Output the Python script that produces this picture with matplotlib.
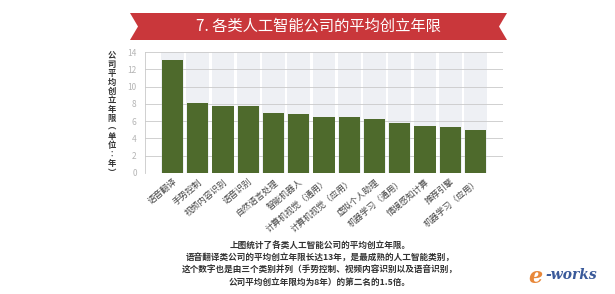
import matplotlib
matplotlib.use("Agg")
import matplotlib.pyplot as plt
from matplotlib.patches import Polygon

plt.rcParams["font.family"] = ["Noto Sans CJK SC", "DejaVu Sans"]

TITLE = "7. 各类人工智能公司的平均创立年限"
YLABEL = "公司平均创立年限︵单位︰年︶"
categories = ["语音翻译", "手势控制", "视频内容识别", "语音识别", "自然语言处理",
              "智能机器人", "计算机视觉（通用）", "计算机视觉（应用）", "虚拟个人助理",
              "机器学习（通用）", "情境感知计算", "推荐引擎", "机器学习（应用）"]
years = [13.1, 8.1, 7.8, 7.8, 7.0, 6.8, 6.5, 6.45, 6.25, 5.8, 5.4, 5.3, 5.0]
yticks = [0, 2, 4, 6, 8, 10, 12, 14]
caption = ["上图统计了各类人工智能公司的平均创立年限。",
           "语音翻译类公司的平均创立年限长达13年，是最成熟的人工智能类别，",
           "这个数字也是由三个类别并列（手势控制、视频内容识别以及语音识别，",
           "公司平均创立年限均为8年）的第二名的1.5倍。"]

BAR = "#4e6a2c"
RED = "#c9373b"
TXT = "#333333"

fig = plt.figure(figsize=(6.15, 2.94), dpi=100)
W, H = 615, 294

# title ribbon with notched ends
x0, x1, y0, y1 = 130 / W, 507 / W, 1 - 40 / H, 1 - 13 / H
notch = 8 / W
ym = (y0 + y1) / 2
rib = Polygon([(x0, y1), (x1, y1), (x1 - notch, ym), (x1, y0), (x0, y0), (x0 + notch, ym)],
              closed=True, transform=fig.transFigure, color=RED, lw=0)
fig.patches.append(rib)
fig.text((x0 + x1) / 2, ym, TITLE, color="white", fontsize=11, ha="center", va="center")

ax = fig.add_axes([145 / W, 1 - 173 / H, 358 / W, 121 / H])
x = list(range(len(categories)))
ax.bar(x, [14] * len(x), width=0.9, color="#eef0f4", zorder=0)
ax.set_axisbelow(True)
ax.grid(axis="y", color="#c9c9c9", lw=0.6, zorder=1)
ax.bar(x, years, width=0.84, color=BAR, zorder=2)
ax.set_xlim(-1.09, len(x) - 1 + 1.09)
ax.set_ylim(0, 14)
ax.set_yticks(yticks)
ax.tick_params(axis="y", labelsize=6, colors="#b5b5b5", length=0, pad=6)
ax.tick_params(axis="x", length=0, pad=3)
ax.set_xticks(x)
ax.set_xticklabels(categories, rotation=40, ha="right", rotation_mode="anchor",
                   fontsize=6.2, color="#444444")
for s in ["top", "right", "bottom"]:
    ax.spines[s].set_visible(False)
ax.spines["left"].set_color("#c9c9c9")
ax.spines["left"].set_linewidth(0.6)

fig.text(112 / W, 1 - 114 / H, "\n".join(YLABEL), fontsize=6, color=TXT,
         ha="center", va="center", linespacing=1.0, fontweight="bold")

for i, line in enumerate(caption):
    fig.text(320 / W, 1 - (245 + 12.5 * i) / H, line, fontsize=6.2, color=TXT,
             ha="center", va="center", fontweight="bold")

fig.text(535 / W, 1 - 277 / H, "e", fontsize=16, color="#e8883a", style="italic",
         fontweight="bold", ha="center", va="center", family="DejaVu Serif")
fig.text(545 / W, 1 - 275 / H, "-works", fontsize=10, color="#3a5a9a", style="italic",
         fontweight="bold", ha="left", va="center", family="DejaVu Serif")

fig.savefig("out.png", dpi=100)
